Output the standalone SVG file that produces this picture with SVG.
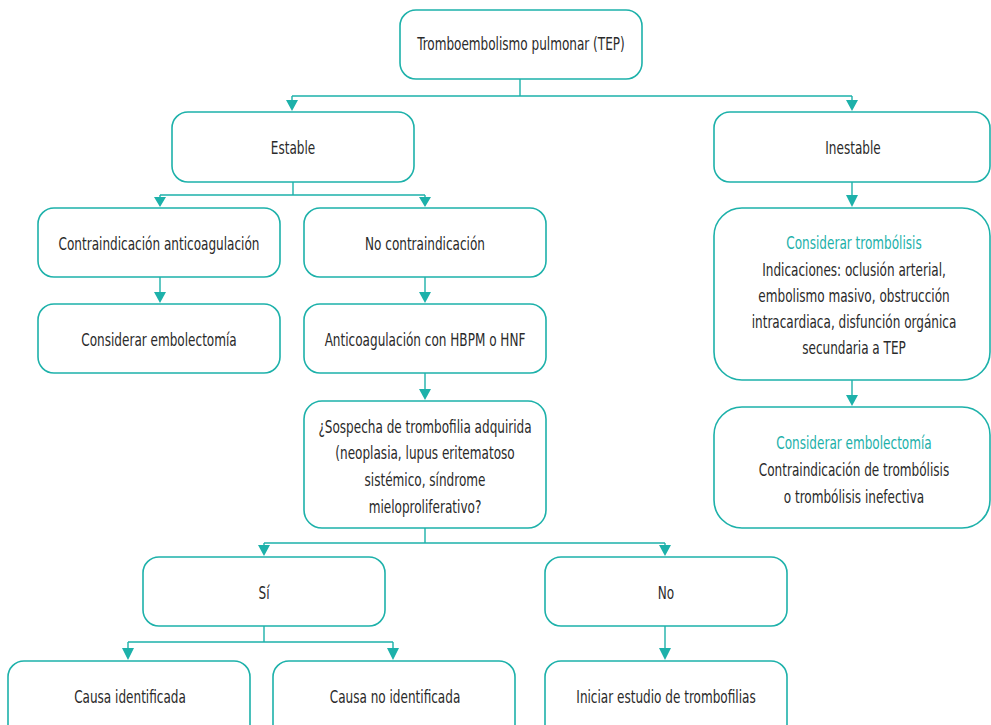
<svg xmlns="http://www.w3.org/2000/svg" width="991" height="725" viewBox="0 0 991 725">
<style>
.box{fill:#fff;stroke:#1db1aa;stroke-width:1.6}
.t{font-family:"DejaVu Sans Condensed","DejaVu Sans",sans-serif;font-size:18px;fill:#2a2a2a;text-anchor:middle}
.h{fill:#1db1aa}
.c{fill:none;stroke:#1db1aa;stroke-width:1.4}
.ah{fill:#1db1aa}
</style>
<rect width="991" height="725" fill="#fff"/>
<g id="connectors">
<path class="c" d="M520,79 V96 M292,96 H852 M292,96 V101 M852,96 V101"/>
<path class="ah" d="M286,100 L298,100 L292,111 Z M846,100 L858,100 L852,111 Z"/>
<path class="c" d="M293,182 V195 M160,195 H425 M160,195 V198 M425,195 V198"/>
<path class="ah" d="M154,197 L166,197 L160,207 Z M419,197 L431,197 L425,207 Z"/>
<path class="c" d="M852,182 V195"/><path class="ah" d="M846,195 L858,195 L852,207 Z"/>
<path class="c" d="M160,277 V292"/><path class="ah" d="M154,292 L166,292 L160,303 Z"/>
<path class="c" d="M425,277 V292"/><path class="ah" d="M419,292 L431,292 L425,303 Z"/>
<path class="c" d="M425,373 V389"/><path class="ah" d="M419,389 L431,389 L425,400 Z"/>
<path class="c" d="M852,380 V395"/><path class="ah" d="M846,395 L858,395 L852,406 Z"/>
<path class="c" d="M425,528 V543 M264,543 H665 M264,543 V546 M665,543 V546"/>
<path class="ah" d="M258,545 L270,545 L264,556 Z M659,545 L671,545 L665,556 Z"/>
<path class="c" d="M264,626 V642 M128,642 H393 M128,642 V649 M393,642 V649"/>
<path class="ah" d="M122,648 L134,648 L128,660 Z M387,648 L399,648 L393,660 Z"/>
<path class="c" d="M665,626 V649"/><path class="ah" d="M659,648 L671,648 L665,660 Z"/>
</g>
<g id="n-tep"><rect class="box" x="400" y="10" width="242" height="69" rx="16"/><g transform="translate(521 0) scale(0.745 1)"><text class="t" x="0" y="50">Tromboembolismo pulmonar (TEP)</text></g></g>
<g id="n-estable"><rect class="box" x="172" y="112" width="242" height="70" rx="16"/><g transform="translate(293 0) scale(0.745 1)"><text class="t" x="0" y="154">Estable</text></g></g>
<g id="n-inestable"><rect class="box" x="714" y="112" width="276" height="70" rx="16"/><g transform="translate(853 0) scale(0.745 1)"><text class="t" x="0" y="154">Inestable</text></g></g>
<g id="n-contra"><rect class="box" x="38" y="208" width="242" height="69" rx="16"/><g transform="translate(159 0) scale(0.745 1)"><text class="t" x="0" y="250">Contraindicación anticoagulación</text></g></g>
<g id="n-nocontra"><rect class="box" x="304" y="208" width="242" height="69" rx="16"/><g transform="translate(425 0) scale(0.745 1)"><text class="t" x="0" y="250">No contraindicación</text></g></g>
<g id="n-embol1"><rect class="box" x="38" y="304" width="242" height="69" rx="16"/><g transform="translate(159 0) scale(0.745 1)"><text class="t" x="0" y="346">Considerar embolectomía</text></g></g>
<g id="n-anticoag"><rect class="box" x="304" y="304" width="242" height="69" rx="16"/><g transform="translate(425 0) scale(0.745 1)"><text class="t" x="0" y="346">Anticoagulación con HBPM o HNF</text></g></g>
<g id="n-sospecha"><rect class="box" x="304" y="401" width="242" height="127" rx="18"/>
<g transform="translate(425 0) scale(0.745 1)">
<text class="t" x="0" y="433">¿Sospecha de trombofilia adquirida</text>
<text class="t" x="0" y="459">(neoplasia, lupus eritematoso</text>
<text class="t" x="0" y="486">sistémico, síndrome</text>
<text class="t" x="0" y="513">mieloproliferativo?</text></g></g>
<g id="n-trombolisis"><rect class="box" x="714" y="208" width="276" height="172" rx="28"/>
<g transform="translate(854 0) scale(0.745 1)">
<text class="t h" x="0" y="249">Considerar trombólisis</text>
<text class="t" x="0" y="276">Indicaciones: oclusión arterial,</text>
<text class="t" x="0" y="302">embolismo masivo, obstrucción</text>
<text class="t" x="0" y="328">intracardiaca, disfunción orgánica</text>
<text class="t" x="0" y="354">secundaria a TEP</text></g></g>
<g id="n-embol2"><rect class="box" x="714" y="407" width="276" height="121" rx="28"/>
<g transform="translate(854 0) scale(0.745 1)">
<text class="t h" x="0" y="449">Considerar embolectomía</text>
<text class="t" x="0" y="476">Contraindicación de trombólisis</text>
<text class="t" x="0" y="503">o trombólisis inefectiva</text></g></g>
<g id="n-si"><rect class="box" x="143" y="557" width="242" height="69" rx="16"/><g transform="translate(264 0) scale(0.745 1)"><text class="t" x="0" y="599">Sí</text></g></g>
<g id="n-no"><rect class="box" x="545" y="557" width="242" height="69" rx="16"/><g transform="translate(666 0) scale(0.745 1)"><text class="t" x="0" y="599">No</text></g></g>
<g id="n-causa"><rect class="box" x="8" y="661" width="242" height="80" rx="16"/><g transform="translate(130 0) scale(0.745 1)"><text class="t" x="0" y="703">Causa identificada</text></g></g>
<g id="n-causano"><rect class="box" x="273" y="661" width="242" height="80" rx="16"/><g transform="translate(395 0) scale(0.745 1)"><text class="t" x="0" y="703">Causa no identificada</text></g></g>
<g id="n-iniciar"><rect class="box" x="545" y="661" width="242" height="80" rx="16"/><g transform="translate(666 0) scale(0.745 1)"><text class="t" x="0" y="703">Iniciar estudio de trombofilias</text></g></g>
</svg>
